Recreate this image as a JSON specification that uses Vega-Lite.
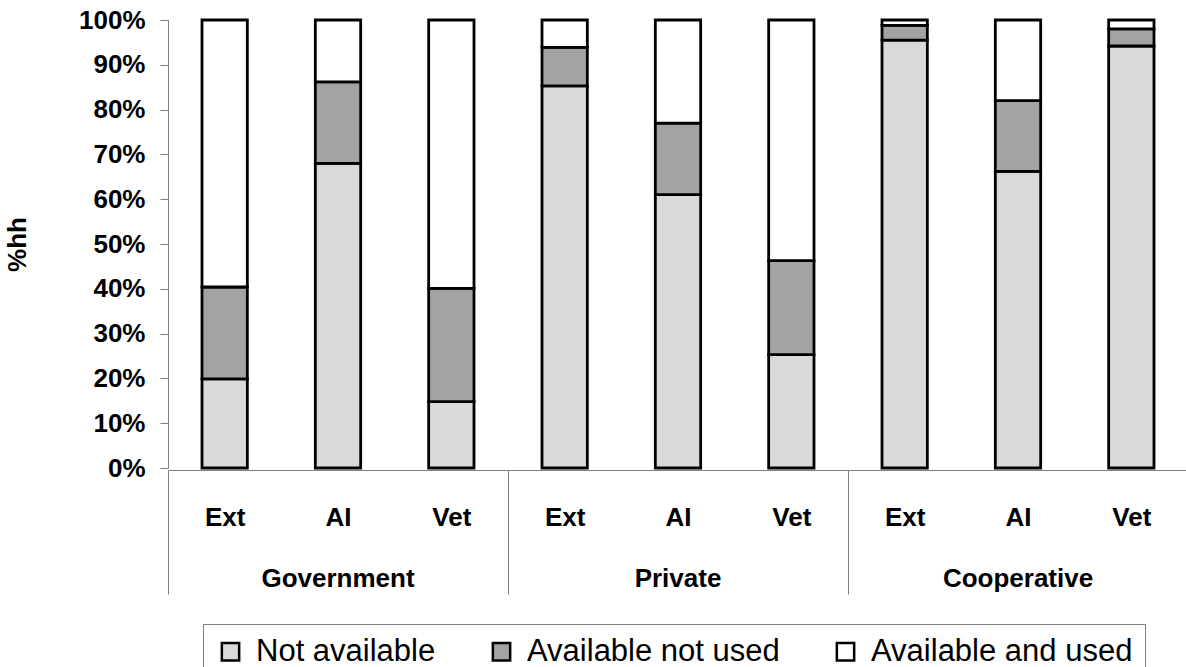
{
  "$schema": "https://vega.github.io/schema/vega-lite/v6.json",
  "background": "white",
  "padding": {"left": 4, "top": 7, "right": 0, "bottom": 0},
  "data": {"values": [
    {"group": "Government", "source": "Ext", "status": "Not available", "pct": 19.9},
    {"group": "Government", "source": "Ext", "status": "Available not used", "pct": 20.5},
    {"group": "Government", "source": "Ext", "status": "Available and used", "pct": 59.6},
    {"group": "Government", "source": "AI", "status": "Not available", "pct": 68.0},
    {"group": "Government", "source": "AI", "status": "Available not used", "pct": 18.2},
    {"group": "Government", "source": "AI", "status": "Available and used", "pct": 13.8},
    {"group": "Government", "source": "Vet", "status": "Not available", "pct": 14.8},
    {"group": "Government", "source": "Vet", "status": "Available not used", "pct": 25.3},
    {"group": "Government", "source": "Vet", "status": "Available and used", "pct": 59.9},
    {"group": "Private", "source": "Ext", "status": "Not available", "pct": 85.3},
    {"group": "Private", "source": "Ext", "status": "Available not used", "pct": 8.6},
    {"group": "Private", "source": "Ext", "status": "Available and used", "pct": 6.1},
    {"group": "Private", "source": "AI", "status": "Not available", "pct": 61.0},
    {"group": "Private", "source": "AI", "status": "Available not used", "pct": 16.0},
    {"group": "Private", "source": "AI", "status": "Available and used", "pct": 23.0},
    {"group": "Private", "source": "Vet", "status": "Not available", "pct": 25.3},
    {"group": "Private", "source": "Vet", "status": "Available not used", "pct": 21.0},
    {"group": "Private", "source": "Vet", "status": "Available and used", "pct": 53.7},
    {"group": "Cooperative", "source": "Ext", "status": "Not available", "pct": 95.5},
    {"group": "Cooperative", "source": "Ext", "status": "Available not used", "pct": 3.3},
    {"group": "Cooperative", "source": "Ext", "status": "Available and used", "pct": 1.2},
    {"group": "Cooperative", "source": "AI", "status": "Not available", "pct": 66.2},
    {"group": "Cooperative", "source": "AI", "status": "Available not used", "pct": 15.8},
    {"group": "Cooperative", "source": "AI", "status": "Available and used", "pct": 18.0},
    {"group": "Cooperative", "source": "Vet", "status": "Not available", "pct": 94.2},
    {"group": "Cooperative", "source": "Vet", "status": "Available not used", "pct": 3.8},
    {"group": "Cooperative", "source": "Vet", "status": "Available and used", "pct": 2.0}
  ]},
  "facet": {
    "column": {
      "field": "group", "type": "nominal",
      "sort": ["Government", "Private", "Cooperative"],
      "header": {
        "orient": "bottom", "title": null,
        "labelFont": "Liberation Sans", "labelFontSize": 26, "labelFontWeight": "bold",
        "labelColor": "black", "labelPadding": -29
      }
    }
  },
  "spacing": 0,
  "spec": {
    "width": 340,
    "height": 448,
    "mark": {"type": "bar", "width": {"band": 0.4}, "stroke": "black", "strokeWidth": 2.8},
    "encoding": {
      "x": {
        "field": "source", "type": "nominal", "sort": ["Ext", "AI", "Vet"],
        "scale": {"paddingInner": 0, "paddingOuter": 0},
        "axis": {
          "title": null, "labelAngle": 0,
          "labelFont": "Liberation Sans", "labelFontSize": 26, "labelFontWeight": "bold", "labelColor": "black",
          "domainColor": "#808080",
          "tickBand": "extent", "tickSize": 124, "tickColor": "#808080",
          "tickOpacity": {"condition": {"test": "datum.index < 0", "value": 1}, "value": 0},
          "labelPadding": -90
        }
      },
      "y": {
        "field": "pct", "type": "quantitative", "stack": "zero",
        "scale": {"domain": [0, 100], "nice": false},
        "axis": {
          "title": "%hh", "values": [0, 10, 20, 30, 40, 50, 60, 70, 80, 90, 100],
          "labelExpr": "datum.value + '%'",
          "labelFont": "Liberation Sans", "labelFontSize": 26, "labelFontWeight": "bold", "labelColor": "black",
          "labelPadding": 15, "tickSize": 8, "tickColor": "#808080",
          "domainColor": "#808080", "grid": false,
          "titleFont": "Liberation Sans", "titleFontSize": 26, "titleFontWeight": "bold", "titleColor": "black",
          "titlePadding": 48
        }
      },
      "color": {
        "field": "status", "type": "nominal",
        "sort": ["Not available", "Available not used", "Available and used"],
        "scale": {
          "domain": ["Not available", "Available not used", "Available and used"],
          "range": ["#d9d9d9", "#a3a3a3", "#ffffff"]
        },
        "legend": {
          "title": null, "orient": "none", "legendX": 35, "legendY": 604,
          "direction": "horizontal", "columns": 3,
          "strokeColor": "#808080", "padding": 12,
          "symbolType": "square", "symbolSize": 300, "symbolStrokeColor": "black", "symbolStrokeWidth": 2.5,
          "labelFont": "Liberation Sans", "labelFontSize": 31, "labelColor": "black", "labelLimit": 400,
          "labelOffset": 10, "columnPadding": 50
        }
      }
    }
  },
  "config": {"view": {"stroke": null}}
}
